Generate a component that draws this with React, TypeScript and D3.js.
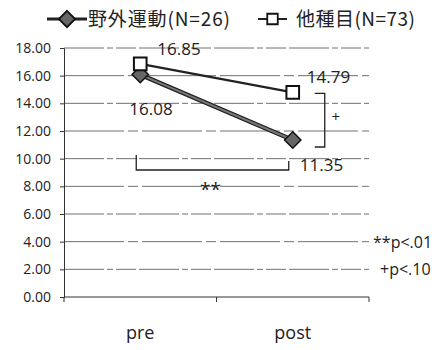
import { useEffect, useRef } from "react";
import * as d3 from "d3";

const categories = ["pre", "post"];
const outdoorValues = [16.08, 11.35];
const otherValues = [16.85, 14.79];
const seriesNames = ["野外運動(N=26)", "他種目(N=73)"];
const yTicks = [0, 2, 4, 6, 8, 10, 12, 14, 16, 18];
const notes = ["**p<.01", "+p<.10"];

const App = () => {
  const svgRef = useRef<SVGSVGElement>(null);

  useEffect(() => {
    const w = 443;
    const h = 350;
    const svg = d3.select(svgRef.current);
    svg.selectAll("*").remove();
    svg.attr("width", w).attr("height", h);

    const font = "'Open Sans', 'Noto Sans', sans-serif";
    const left = 64, right = 369, top = 48, bottom = 297;

    const xScale = d3.scaleBand().domain(categories).range([left, right]);
    const yScale = d3.scaleLinear().domain([0, 18]).range([bottom, top]);
    const cx = (c: string) => (xScale(c) as number) + xScale.bandwidth() / 2;

    // gridlines
    svg.append("g")
      .selectAll("line")
      .data(yTicks.filter(t => t > 0))
      .join("line")
      .attr("x1", left).attr("x2", right)
      .attr("y1", d => yScale(d)).attr("y2", d => yScale(d))
      .attr("stroke", "#707070")
      .attr("stroke-width", 1)
      .attr("stroke-dasharray", (d, i) => (i % 2 === 0 ? "40,3,6,3,20,3" : "60,4,10,4"));

    // y axis
    const yAxis = d3.axisLeft(yScale).tickValues(yTicks).tickSize(4).tickFormat(d3.format(".2f"));
    const gy = svg.append("g").attr("transform", `translate(${left},0)`).call(yAxis);
    gy.selectAll("text").attr("font-family", font).attr("font-size", 14).attr("fill", "#222").attr("dx", -6);
    gy.select(".domain").attr("stroke", "#333");
    gy.selectAll(".tick line").attr("stroke", "#333");

    // x axis
    const gx = svg.append("g").attr("transform", `translate(0,${bottom})`);
    gx.append("line").attr("x1", left).attr("x2", right).attr("stroke", "#333");
    gx.selectAll("line.tk")
      .data([left, (xScale("post") as number), right])
      .join("line")
      .attr("class", "tk")
      .attr("x1", d => d).attr("x2", d => d)
      .attr("y1", 0).attr("y2", 5)
      .attr("stroke", "#333");
    gx.selectAll("text")
      .data(categories)
      .join("text")
      .attr("x", d => cx(d))
      .attr("y", 42)
      .attr("text-anchor", "middle")
      .attr("font-family", font)
      .attr("font-size", 18)
      .attr("fill", "#222")
      .text(d => d);

    const line = d3.line<number>()
      .x((d, i) => cx(categories[i]))
      .y(d => yScale(d));

    // other series line (square)
    svg.append("path")
      .attr("d", line(otherValues))
      .attr("fill", "none")
      .attr("stroke", "#222")
      .attr("stroke-width", 2.2);

    // outdoor series line (diamond)
    svg.append("path")
      .attr("d", line(outdoorValues))
      .attr("fill", "none")
      .attr("stroke", "#222")
      .attr("stroke-width", 4.5);
    svg.append("path")
      .attr("d", line(outdoorValues))
      .attr("fill", "none")
      .attr("stroke", "#777")
      .attr("stroke-width", 2);

    const diamond = d3.symbol().type(d3.symbolDiamond2).size(170);
    const square = d3.symbol().type(d3.symbolSquare).size(160);
    const legendSquare = d3.symbol().type(d3.symbolSquare).size(110);

    svg.append("g")
      .selectAll("path")
      .data(outdoorValues)
      .join("path")
      .attr("d", diamond)
      .attr("transform", (d, i) => `translate(${cx(categories[i])},${yScale(d)})`)
      .attr("fill", "#666")
      .attr("stroke", "#111")
      .attr("stroke-width", 1.5);

    svg.append("g")
      .selectAll("path")
      .data(otherValues)
      .join("path")
      .attr("d", square)
      .attr("transform", (d, i) => `translate(${cx(categories[i])},${yScale(d)})`)
      .attr("fill", "#fff")
      .attr("stroke", "#111")
      .attr("stroke-width", 2);

    // value labels
    const labelAt = (v: number, x: number, y: number) =>
      svg.append("text")
        .attr("x", x).attr("y", y)
        .attr("font-family", font)
        .attr("font-size", 17)
        .attr("fill", "#222")
        .text(v.toFixed(2));
    labelAt(otherValues[0], cx("pre") + 17, yScale(otherValues[0]) - 9);
    labelAt(outdoorValues[0], cx("pre") - 11, yScale(outdoorValues[0]) + 40);
    labelAt(otherValues[1], cx("post") + 14, yScale(otherValues[1]) - 9);
    labelAt(outdoorValues[1], cx("post") + 7, yScale(outdoorValues[1]) + 31);

    // significance brackets
    const bx = cx("post") + 32;
    svg.append("path")
      .attr("d", `M${bx - 10},${yScale(otherValues[1]) + 1}H${bx}V${yScale(outdoorValues[1]) + 7}H${bx - 10}`)
      .attr("fill", "none").attr("stroke", "#222").attr("stroke-width", 1.3);
    svg.append("text")
      .attr("x", bx + 11).attr("y", (yScale(otherValues[1]) + yScale(outdoorValues[1])) / 2 + 6)
      .attr("text-anchor", "middle").attr("font-family", font).attr("font-size", 15).attr("fill", "#222")
      .text("+");

    const by = yScale(outdoorValues[1]) + 30;
    svg.append("path")
      .attr("d", `M${cx("pre") - 4},${by - 15}V${by}H${cx("post") - 4}V${by - 9}`)
      .attr("fill", "none").attr("stroke", "#222").attr("stroke-width", 1.3);
    svg.append("text")
      .attr("x", (xScale("post") as number) - 6).attr("y", by + 26)
      .attr("text-anchor", "middle").attr("font-family", font).attr("font-size", 19).attr("fill", "#222")
      .text("**");

    // notes
    svg.selectAll("text.note")
      .data(notes)
      .join("text")
      .attr("class", "note")
      .attr("x", (d, i) => (i === 0 ? 373 : 380))
      .attr("y", (d, i) => yScale(i === 0 ? 4 : 2) + 6)
      .attr("font-family", font)
      .attr("font-size", 16)
      .attr("fill", "#222")
      .text(d => d);

    // legend
    const legend = svg.append("g").attr("transform", "translate(0,19)");
    const legendItems = [
      { x0: 47, x1: 87, tx: 88, sym: diamond, fill: "#666", width: 3, len: 142 },
      { x0: 258, x1: 287, tx: 296, sym: legendSquare, fill: "#fff", width: 2, len: 119 },
    ];
    legendItems.forEach((it, i) => {
      legend.append("line")
        .attr("x1", it.x0).attr("x2", it.x1)
        .attr("stroke", "#222").attr("stroke-width", it.width);
      legend.append("path")
        .attr("d", it.sym)
        .attr("transform", `translate(${(it.x0 + it.x1) / 2},0)`)
        .attr("fill", it.fill).attr("stroke", "#111").attr("stroke-width", 1.8);
      legend.append("text")
        .attr("x", it.tx).attr("y", 7)
        .attr("font-family", "'Noto Sans CJK JP', sans-serif")
        .attr("font-size", 19)
        .attr("fill", "#222")
        .attr("textLength", it.len)
        .attr("lengthAdjust", "spacing")
        .text(seriesNames[i]);
    });
  }, []);

  return <svg ref={svgRef} style={{ position: "absolute", left: 0, top: 0 }}></svg>;
};

export default App;
